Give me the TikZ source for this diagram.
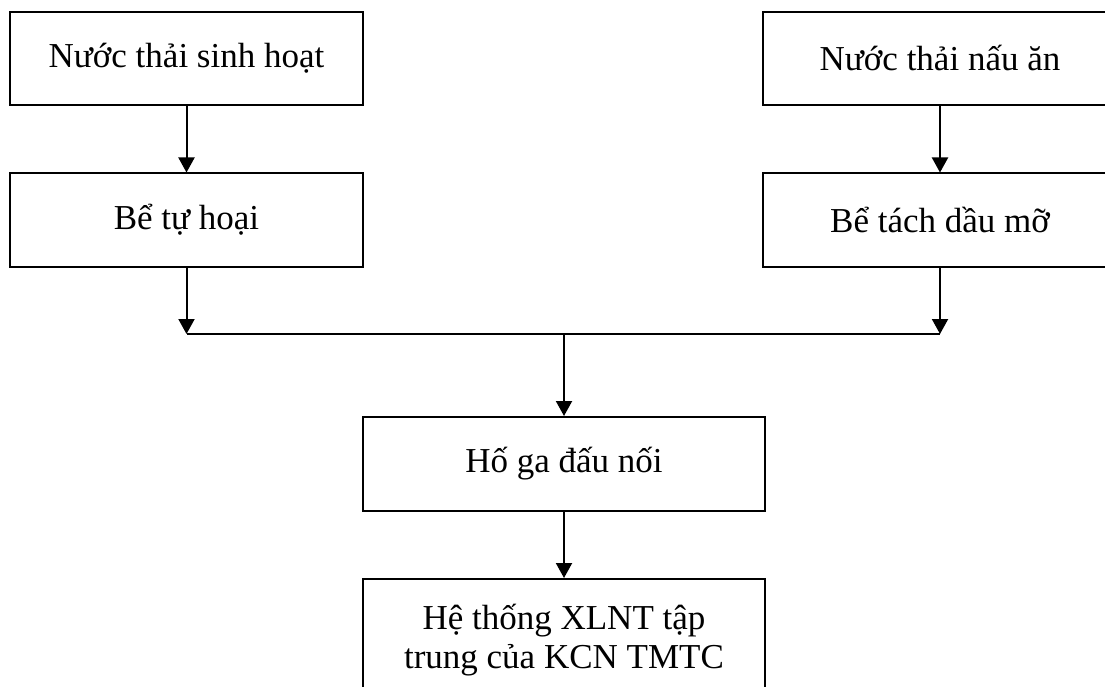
\documentclass[tikz,border=0pt]{standalone}
\usepackage{fontspec}
\setmainfont{Liberation Serif}
\usetikzlibrary{arrows.meta}
\begin{document}
\begin{tikzpicture}[x=1pt,y=-1pt,
  box/.style={draw=black, line width=2pt, minimum width=353pt, minimum height=93pt, inner sep=0pt,
    font=\fontsize{35}{39}\selectfont, align=center, text=black},
  conn/.style={line width=2pt, draw=black},
  arr/.style={conn, -{Triangle[length=15pt,width=16pt]}}]
\useasboundingbox (0,0) rectangle (1105,687);
\clip (0,0) rectangle (1105,687);
\fill[white] (0,0) rectangle (1105,687);
\node[box] (b1) at (186.5,58.5) {Nước thải sinh hoạt};
\node[box] (b3) at (186.5,220) {Bể tự hoại};
\node[box, minimum width=354pt] (b2) at (940,58.5) {Nước thải nấu ăn};
\node[box, minimum width=354pt] (b4) at (940,220) {Bể tách dầu mỡ};
\node[box, minimum width=402pt, minimum height=94pt] (b5) at (564,464) {Hố ga đấu nối};
\node[box, minimum width=402pt, minimum height=122pt] (b6) at (564,640) {Hệ thống XLNT tập\\trung của KCN TMTC};
\coordinate (jl) at (186.5,334);
\coordinate (jr) at (940,334);
\coordinate (jm) at (564,334);
\draw[arr] (b1.south) -- (b3.north);
\draw[arr] (b2.south) -- (b4.north);
\draw[arr] (b3.south) -- (jl);
\draw[arr] (b4.south) -- (jr);
\draw[conn] (jl) -- (jr);
\draw[arr] (jm) -- (b5.north);
\draw[arr] (b5.south) -- (b6.north);
\end{tikzpicture}
\end{document}
